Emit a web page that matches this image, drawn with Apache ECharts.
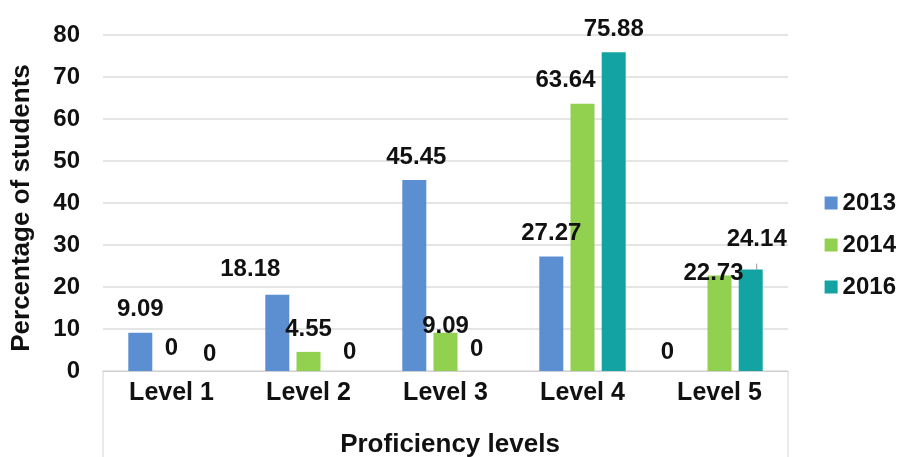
<!DOCTYPE html>
<html>
<head>
<meta charset="utf-8">
<script src="https://cdn.jsdelivr.net/npm/echarts@6/dist/echarts.min.js"></script>
<style>
  html, body { margin: 0; padding: 0; background: #fff; }
  #chart { width: 905px; height: 457px; }
</style>
</head>
<body>
<div id="chart"></div>
<script>
// Share of students at each proficiency level, by survey year
const levels = ['Level 1', 'Level 2', 'Level 3', 'Level 4', 'Level 5'];
const years = ['2013', '2014', '2016'];
const values2013 = [9.09, 18.18, 45.45, 27.27, 0];
const values2014 = [0, 4.55, 9.09, 63.64, 22.73];
const values2016 = [0, 0, 0, 75.88, 24.14];
const yTicks = [0, 10, 20, 30, 40, 50, 60, 70, 80];

const colors = ['#5B8FD1', '#92D050', '#14A3A3'];

// label nudges [dx, dy] for labels that sit beside or inside their bar
const nudges = {
  '2013': [[0, 0], [-27, -2], [2, 0], [0, 0], [-21, 4]],
  '2014': [[0, 0], [0, 0], [0, 17], [-17, 0], [-6, 21]],
  '2016': [[7, 6], [10, 4], [0, 1], [0, 0], [6, -7]]
};
// only this label keeps a leader line back to its bar
const leaderLines = { '2016': [4] };

const font = '"Liberation Sans", Arial, Helvetica, sans-serif';
const gridLeft = 103, gridRight = 117, gridTop = 35, gridBottom = 86;

function buildSeries(name, values, color) {
  const withLine = leaderLines[name] || [];
  return {
    name: name,
    type: 'bar',
    barWidth: 24,
    barGap: '30%',
    itemStyle: { color: color },
    label: {
      show: true,
      position: 'top',
      distance: 11,
      color: '#111',
      fontFamily: font,
      fontWeight: 'bold',
      fontSize: 24
    },
    labelLine: { show: false, lineStyle: { color: '#9a9a9a', width: 1 } },
    data: values.map((v, i) => {
      const item = { value: v, label: { offset: nudges[name][i] } };
      if (withLine.indexOf(i) >= 0) item.labelLine = { show: true };
      return item;
    })
  };
}

const chart = echarts.init(document.getElementById('chart'), null, { renderer: 'canvas' });
const W = 905, H = 457;
chart.setOption({
  animation: false,
  backgroundColor: '#fff',
  textStyle: { fontFamily: font },
  grid: {
    left: gridLeft, right: gridRight, top: gridTop, bottom: gridBottom,
    containLabel: false, outerBoundsMode: 'none'
  },
  legend: {
    orient: 'vertical',
    right: 4,
    top: 186,
    itemWidth: 13,
    itemHeight: 13,
    itemGap: 18,
    icon: 'rect',
    data: years,
    textStyle: { fontFamily: font, fontWeight: 'bold', fontSize: 24, color: '#111' }
  },
  xAxis: {
    type: 'category',
    data: levels,
    name: 'Proficiency levels',
    nameLocation: 'middle',
    nameGap: 61,
    nameTextStyle: { fontFamily: font, fontWeight: 'bold', fontSize: 26, color: '#111', padding: [0, 0, 0, 9] },
    axisLine: { show: true, lineStyle: { color: '#d0d0d0', width: 1 } },
    axisTick: { show: false },
    axisLabel: { margin: 10, fontFamily: font, fontWeight: 'bold', fontSize: 25, color: '#111' }
  },
  yAxis: {
    type: 'value',
    min: yTicks[0],
    max: yTicks[yTicks.length - 1],
    interval: yTicks[1] - yTicks[0],
    name: 'Percentage of students',
    nameLocation: 'middle',
    nameGap: 68,
    nameTextStyle: { fontFamily: font, fontWeight: 'bold', fontSize: 26, color: '#111', padding: [0, 10, 0, 0] },
    axisLine: { show: false },
    axisTick: { show: false },
    splitLine: { lineStyle: { color: '#dcdcdc', width: 1.5 } },
    axisLabel: { margin: 23, fontFamily: font, fontWeight: 'bold', fontSize: 24, color: '#111' }
  },
  graphic: [
    // light frame below the category axis
    { type: 'line', silent: true, shape: { x1: gridLeft, y1: H - gridBottom, x2: gridLeft, y2: H }, style: { stroke: '#d6d6d6', lineWidth: 1 } },
    { type: 'line', silent: true, shape: { x1: W - gridRight, y1: H - gridBottom, x2: W - gridRight, y2: H }, style: { stroke: '#d6d6d6', lineWidth: 1 } }
  ],
  series: [
    buildSeries('2013', values2013, colors[0]),
    buildSeries('2014', values2014, colors[1]),
    buildSeries('2016', values2016, colors[2])
  ]
});
</script>
</body>
</html>
